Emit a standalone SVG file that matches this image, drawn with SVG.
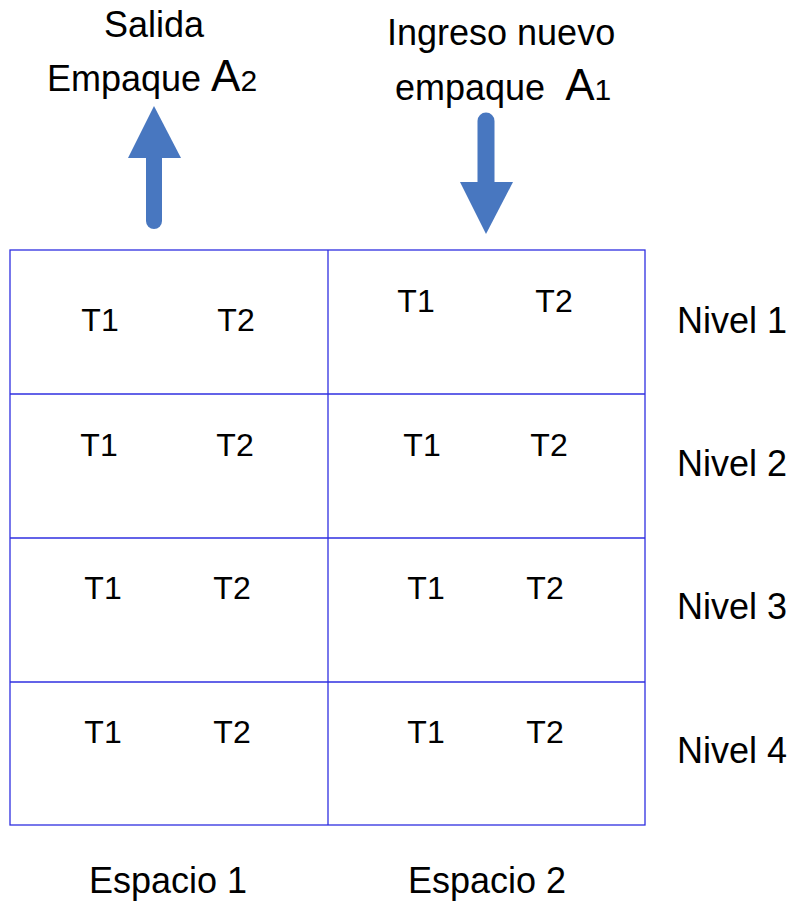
<svg xmlns="http://www.w3.org/2000/svg" width="791" height="902" viewBox="0 0 791 902">
  <style>
    text { font-family: "Liberation Sans", Arial, sans-serif; fill: #000; }
    .lbl { font-size: 36px; }
    .big { font-size: 44px; }
    .sub { font-size: 30px; }
    .cell { font-size: 32px; text-anchor: middle; }
    .lvl { font-size: 36px; }
    .grid { stroke: #2f2fe0; stroke-width: 1.3; fill: none; }
    .arrow { fill: #4877C0; }
    .shaft { stroke: #4877C0; stroke-linecap: round; fill: none; }
  </style>
  <rect width="791" height="902" fill="#fff"/>

  <!-- shelving grid: 2 spaces x 4 levels -->
  <g id="grid" class="grid">
    <rect x="10" y="250" width="635" height="575"/>
    <line x1="328" y1="250" x2="328" y2="825"/>
    <line x1="10" y1="394" x2="645" y2="394"/>
    <line x1="10" y1="538" x2="645" y2="538"/>
    <line x1="10" y1="682" x2="645" y2="682"/>
  </g>

  <!-- flow arrows -->
  <g id="connectors">
    <g id="arrow-out">
      <line class="shaft" x1="154" y1="150" x2="154" y2="221" stroke-width="16"/>
      <polygon class="arrow" points="128,158 154,106 181,158"/>
    </g>
    <g id="arrow-in">
      <line class="shaft" x1="486" y1="121" x2="486" y2="190" stroke-width="17"/>
      <polygon class="arrow" points="460,182 513,182 486,234"/>
    </g>
  </g>

  <!-- top labels -->
  <g id="label-salida">
    <text class="lbl" x="154" y="37" text-anchor="middle">Salida</text>
    <text class="lbl" x="47" y="91">Empaque <tspan class="big">A</tspan><tspan class="sub">2</tspan></text>
  </g>
  <g id="label-ingreso">
    <text class="lbl" x="387" y="45">Ingreso nuevo</text>
    <text class="lbl" x="395" y="100" xml:space="preserve">empaque  <tspan class="big">A</tspan><tspan class="sub">1</tspan></text>
  </g>

  <!-- cell contents -->
  <g id="espacio1-nivel1"><text class="cell" x="100" y="331">T1</text><text class="cell" x="236" y="331">T2</text></g>
  <g id="espacio2-nivel1"><text class="cell" x="416" y="312">T1</text><text class="cell" x="554" y="312">T2</text></g>
  <g id="espacio1-nivel2"><text class="cell" x="99" y="456">T1</text><text class="cell" x="235" y="456">T2</text></g>
  <g id="espacio2-nivel2"><text class="cell" x="422" y="456">T1</text><text class="cell" x="549" y="456">T2</text></g>
  <g id="espacio1-nivel3"><text class="cell" x="103" y="599">T1</text><text class="cell" x="232" y="599">T2</text></g>
  <g id="espacio2-nivel3"><text class="cell" x="426" y="599">T1</text><text class="cell" x="545" y="599">T2</text></g>
  <g id="espacio1-nivel4"><text class="cell" x="103" y="743">T1</text><text class="cell" x="232" y="743">T2</text></g>
  <g id="espacio2-nivel4"><text class="cell" x="426" y="743">T1</text><text class="cell" x="545" y="743">T2</text></g>

  <!-- level labels -->
  <g id="niveles">
    <text class="lvl" x="677" y="333">Nivel 1</text>
    <text class="lvl" x="677" y="476">Nivel 2</text>
    <text class="lvl" x="677" y="619">Nivel 3</text>
    <text class="lvl" x="677" y="763">Nivel 4</text>
  </g>

  <!-- space labels -->
  <g id="espacios">
    <text class="lbl" x="168" y="893" text-anchor="middle">Espacio 1</text>
    <text class="lbl" x="487" y="893" text-anchor="middle">Espacio 2</text>
  </g>
</svg>
